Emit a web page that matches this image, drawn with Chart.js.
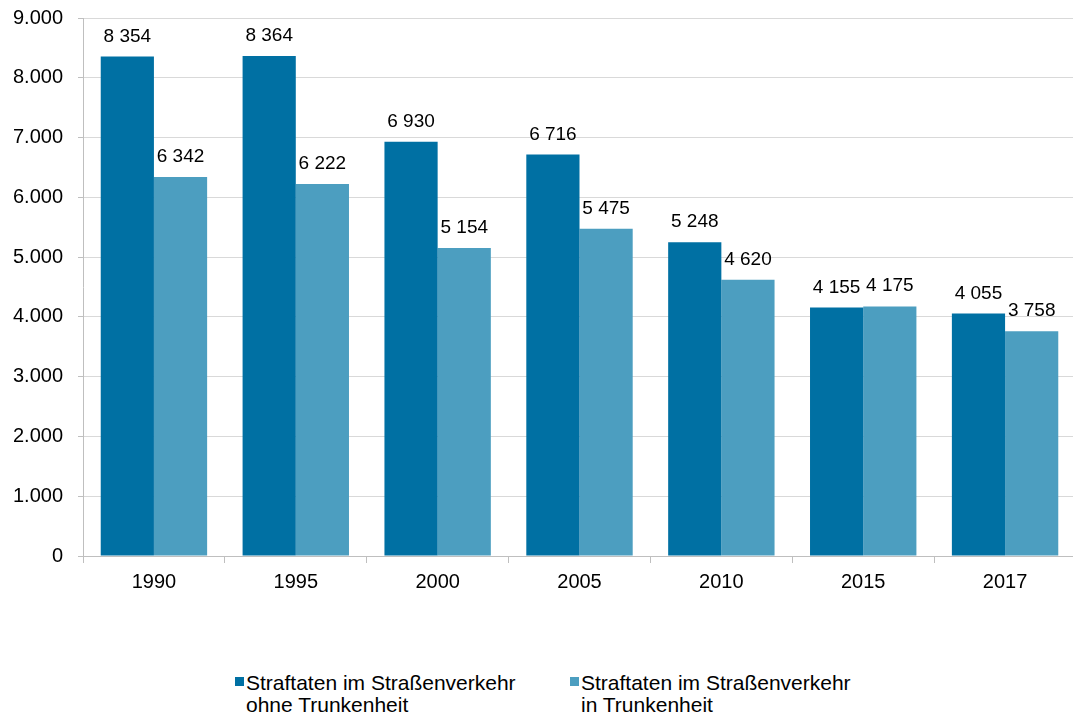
<!DOCTYPE html>
<html lang="de">
<head>
<meta charset="utf-8">
<title>Straftaten im Straßenverkehr</title>
<script src="https://cdn.jsdelivr.net/npm/chart.js@4.4.1/dist/chart.umd.min.js"></script>
<style>
    html, body { margin: 0; padding: 0; background: #fff; overflow: hidden; }
    #wrap { position: relative; width: 1080px; height: 720px; }
    .legend-item { position: absolute; top: 672px; font: 21px "Liberation Sans", Arial, sans-serif; line-height: 22px; color: #000; }
    .legend-item .box { position: absolute; left: -11px; top: 5px; width: 9px; height: 9px; }
</style>
</head>
<body>
<div id="wrap">
    <canvas id="chart" width="1080" height="610"></canvas>
    <div class="legend-item" id="leg0" style="left:246px;"><span class="box"></span></div>
    <div class="legend-item" id="leg1" style="left:581px;"><span class="box"></span></div>
</div>
<script>
const years = ['1990', '1995', '2000', '2005', '2010', '2015', '2017'];
const ohneTrunkenheit = [8354, 8364, 6930, 6716, 5248, 4155, 4055];
const inTrunkenheit = [6342, 6222, 5154, 5475, 4620, 4175, 3758];
const seriesLabels = [
    ['Straftaten im Straßenverkehr', 'ohne Trunkenheit'],
    ['Straftaten im Straßenverkehr', 'in Trunkenheit']
];
const seriesColors = ['#0070a3', '#4c9ec0'];

const fontFamily = '"Liberation Sans", Arial, sans-serif';

// thousands: 9.000 on the axis, 8 354 on the bars
function fmt(v, sep) {
    return String(v).replace(/\B(?=(\d{3})+(?!\d))/g, sep);
}

const barLabels = {
    id: 'barLabels',
    afterDatasetsDraw(chart) {
        const ctx = chart.ctx;
        ctx.save();
        ctx.font = '19px ' + fontFamily;
        ctx.fillStyle = '#000';
        ctx.textAlign = 'center';
        ctx.textBaseline = 'alphabetic';
        chart.data.datasets.forEach((ds, i) => {
            chart.getDatasetMeta(i).data.forEach((bar, j) => {
                ctx.fillText(fmt(ds.data[j], ' '), bar.x, bar.y - 15);
            });
        });
        ctx.restore();
    }
};

new Chart(document.getElementById('chart'), {
    type: 'bar',
    data: {
        labels: years,
        datasets: [
            { label: seriesLabels[0].join(' '), data: ohneTrunkenheit, backgroundColor: seriesColors[0] },
            { label: seriesLabels[1].join(' '), data: inTrunkenheit, backgroundColor: seriesColors[1] }
        ]
    },
    options: {
        responsive: false,
        animation: false,
        devicePixelRatio: 1,
        categoryPercentage: 0.75,
        barPercentage: 1,
        layout: { padding: { left: 0, right: 4, top: 18, bottom: 0 } },
        plugins: {
            legend: { display: false },
            tooltip: { enabled: false }
        },
        scales: {
            x: {
                afterFit(scale) { scale.height = 54; },
                grid: { drawOnChartArea: false, tickLength: 7, tickColor: '#bfbfbf', offset: true },
                border: { color: '#bfbfbf', width: 1 },
                ticks: { color: '#000', padding: 7, font: { family: fontFamily, size: 20 } }
            },
            y: {
                min: 0,
                max: 9000,
                afterFit(scale) {
                    scale.width = 83;
                    scale.paddingTop = 0;
                    scale.paddingBottom = 0;
                },
                grid: { color: '#d9d9d9', tickColor: '#bfbfbf', tickLength: 5 },
                border: { color: '#bfbfbf', width: 1 },
                ticks: {
                    stepSize: 1000,
                    color: '#000',
                    padding: 15,
                    font: { family: fontFamily, size: 20 },
                    callback: v => fmt(v, '.')
                }
            }
        }
    },
    plugins: [barLabels]
});

// legend below the chart, two lines per entry
seriesLabels.forEach((lines, i) => {
    const el = document.getElementById('leg' + i);
    el.querySelector('.box').style.background = seriesColors[i];
    el.appendChild(document.createTextNode(lines[0]));
    el.appendChild(document.createElement('br'));
    el.appendChild(document.createTextNode(lines[1]));
});
</script>
</body>
</html>
